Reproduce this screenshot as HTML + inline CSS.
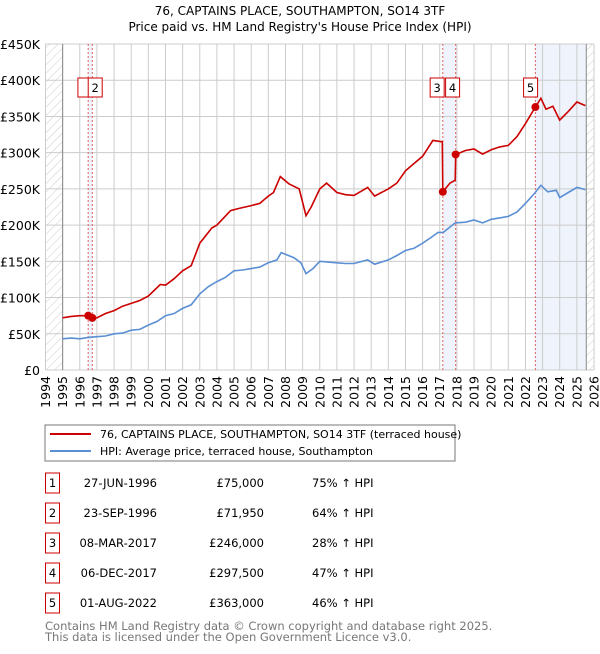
<!DOCTYPE html>
<html><head><meta charset="utf-8"><style>
body{margin:0;background:#fff;font-family:"DejaVu Sans","Liberation Sans",sans-serif;}
svg text{font-family:"DejaVu Sans","Liberation Sans",sans-serif;}
</style></head><body>
<svg id="c" width="600" height="650" xmlns="http://www.w3.org/2000/svg">
<defs><pattern id="hatch" width="6" height="6" patternUnits="userSpaceOnUse" patternTransform="rotate(45)"><line x1="0" y1="0" x2="0" y2="6" stroke="#ccc" stroke-width="1"/></pattern></defs>
<text x="300" y="15" text-anchor="middle" font-size="12">76, CAPTAINS PLACE, SOUTHAMPTON, SO14 3TF</text>
<text x="300" y="31" text-anchor="middle" font-size="12">Price paid vs. HM Land Registry's House Price Index (HPI)</text>
<g id="plot"></g>
<rect x="45" y="425" width="410" height="36" fill="#fff" stroke="#777"/>
<line x1="50" y1="434" x2="91" y2="434" stroke="#cc0000" stroke-width="2"/>
<text x="100" y="438" font-size="11">76, CAPTAINS PLACE, SOUTHAMPTON, SO14 3TF (terraced house)</text>
<line x1="50" y1="451" x2="91" y2="451" stroke="#5b8fd4" stroke-width="2"/>
<text x="100" y="455" font-size="11">HPI: Average price, terraced house, Southampton</text>
<g id="table"></g>
<text x="45" y="630" font-size="11.5" fill="#777">Contains HM Land Registry data © Crown copyright and database right 2025.</text>
<text x="45" y="641" font-size="11.5" fill="#777">This data is licensed under the Open Government Licence v3.0.</text>
</svg>
<script>
const hpiYears=[1995,1995.5,1996,1996.5,1997,1997.5,1998,1998.5,1999,1999.5,2000,2000.5,2001,2001.5,2002,2002.5,2003,2003.5,2004,2004.5,2005,2005.5,2006,2006.5,2007,2007.5,2007.75,2008.5,2008.9,2009.2,2009.6,2010,2010.5,2011,2011.5,2012,2012.8,2013.2,2014,2014.5,2015,2015.5,2016,2016.5,2016.9,2017.2,2017.9,2018.5,2019,2019.5,2020,2020.5,2021,2021.5,2022,2022.5,2022.9,2023.3,2023.8,2024.0,2024.5,2025.0,2025.5];
const hpiValues=[43,44,43,45,46,47,50,51,55,56,62,67,75,78,85,90,105,115,122,128,137,138,140,142,148,152,162,155,148,133,140,150,149,148,147,147,152,146,152,158,165,168,175,183,190,190,203,204,207,203,208,210,212,218,230,243,255,246,248,238,245,252,249];
const propYears=[1995,1995.5,1996,1996.49,1996.73,1997,1997.5,1998,1998.5,1999,1999.5,2000,2000.7,2001,2001.5,2002,2002.5,2003,2003.7,2004,2004.8,2005.3,2006,2006.5,2007,2007.3,2007.7,2008.2,2008.8,2009.2,2009.5,2010,2010.4,2011,2011.5,2012,2012.8,2013.2,2014,2014.5,2015,2015.5,2016,2016.6,2017.15,2017.18,2017.6,2017.9,2017.93,2018.5,2019,2019.5,2020,2020.5,2021,2021.5,2022,2022.58,2022.9,2023.2,2023.6,2024,2024.5,2025,2025.5];
const propValues=[72,74,75,75,71.95,72,78,82,88,92,96,102,118,117,126,137,144,175,196,200,220,223,227,230,240,245,267,257,250,213,225,250,258,245,242,241,252,240,250,258,275,285,295,317,315,246,258,262,297.5,303,305,298,304,308,310,322,340,363,375,360,364,345,357,370,365];
const saleYears=[1996.49,1996.73,2017.18,2017.93,2022.58];
const saleValues=[75,71.95,246,297.5,363];
const saleLabels=["1","2","3","4","5"];
const saleDates=["27-JUN-1996","23-SEP-1996","08-MAR-2017","06-DEC-2017","01-AUG-2022"];
const salePrices=["£75,000","£71,950","£246,000","£297,500","£363,000"];
const saleHpi=["75% ↑ HPI","64% ↑ HPI","28% ↑ HPI","47% ↑ HPI","46% ↑ HPI"];
const yTicks=[0,50,100,150,200,250,300,350,400,450];
const yTickLabels=["£0","£50K","£100K","£150K","£200K","£250K","£300K","£350K","£400K","£450K"];
const xTicks=[1994,1995,1996,1997,1998,1999,2000,2001,2002,2003,2004,2005,2006,2007,2008,2009,2010,2011,2012,2013,2014,2015,2016,2017,2018,2019,2020,2021,2022,2023,2024,2025,2026];

const NS="http://www.w3.org/2000/svg";
const X0=45.5,X1=594,Y0=370,Y1=44;
const xs=y=>X0+(y-1994)/32*(X1-X0);
const ys=v=>Y0-v/450*(Y0-Y1);
const plot=document.getElementById('plot');
function mk(tag,attrs,parent){const e=document.createElementNS(NS,tag);for(const k in attrs)e.setAttribute(k,attrs[k]);(parent||plot).appendChild(e);return e;}
let e;
// shaded ranges
e=mk('rect',{x:xs(saleYears[0]),y:Y1,width:xs(saleYears[1])-xs(saleYears[0]),height:Y0-Y1,fill:'#eef3fc'});


e=mk('rect',{x:xs(saleYears[2]),y:Y1,width:xs(saleYears[3])-xs(saleYears[2]),height:Y0-Y1,fill:'#eef3fc'});


e=mk('rect',{x:xs(saleYears[4]),y:Y1,width:xs(2025.55)-xs(saleYears[4]),height:Y0-Y1,fill:'#eef3fc'});


// hatch
e=mk('rect',{x:X0,y:Y1,width:xs(1995)-X0,height:Y0-Y1,fill:'url(#hatch)'});


e=mk('rect',{x:xs(2025.55),y:Y1,width:X1-xs(2025.55),height:Y0-Y1,fill:'url(#hatch)'});


// grid
yTicks.forEach((t,i)=>{
 e=mk('line',{x1:X0,x2:X1,y1:ys(t),y2:ys(t),stroke:'#ccc'});
 
 
 e=mk('text',{x:40,y:ys(t)+5,'text-anchor':'end','font-size':12.5});
 e.textContent=yTickLabels[i];
 
 
});
xTicks.forEach(t=>{
 e=mk('line',{x1:xs(t),x2:xs(t),y1:Y1,y2:Y0,stroke:'#ccc'});
 
 
 e=mk('text',{x:0,y:0,'font-size':12.5,'text-anchor':'end',transform:`translate(${xs(t)+4.5},${Y0+6}) rotate(-90)`});
 e.textContent=t;
 
 
});
e=mk('line',{x1:xs(1995),x2:xs(1995),y1:Y1,y2:Y0,stroke:'#888'});


e=mk('line',{x1:xs(2025.55),x2:xs(2025.55),y1:Y1,y2:Y0,stroke:'#888'});


// sale dashed lines
saleYears.forEach(s=>{
 e=mk('line',{x1:xs(s),x2:xs(s),y1:Y1,y2:Y0,stroke:'#e06060','stroke-dasharray':'2,2'});
 
 
});
// lines
const pts=(xa,va)=>xa.map((x,i)=>xs(x).toFixed(1)+','+ys(va[i]).toFixed(1)).join(' ');
e=mk('polyline',{points:pts(hpiYears,hpiValues),fill:'none',stroke:'#5b8fd4','stroke-width':1.6});


e=mk('polyline',{points:pts(propYears,propValues),fill:'none',stroke:'#cc0000','stroke-width':1.6});


saleYears.forEach((s,i)=>{
 e=mk('circle',{cx:xs(s),cy:ys(saleValues[i]),r:4,fill:'#cc0000'});
 
 
});
// labels boxes
const lblX=[xs(saleYears[0])-6,xs(saleYears[1])+2,xs(saleYears[2])-6,xs(saleYears[3])+2,xs(saleYears[4])-6];
saleLabels.forEach((l,i)=>{
 const cx=[xs(1996.3),xs(1996.9),xs(2016.85),xs(2017.75),xs(2022.3)][i];
 e=mk('rect',{x:cx-7,y:78,width:14,height:19,fill:'#fff',stroke:'#cc0000'});
 
 
 e=mk('text',{x:cx,y:92,'text-anchor':'middle','font-size':11.5});
 e.textContent=(i==0?'':l);
 
 
});
// table
const tb=document.getElementById('table');
saleLabels.forEach((l,i)=>{
 const cy=483+i*30;
 e=mk('rect',{x:45.5,y:cy-10,width:14,height:20,fill:'#fff',stroke:'#cc0000'},tb);
 
 
 e=mk('text',{x:52.5,y:cy+4,'text-anchor':'middle','font-size':11.5},tb);e.textContent=l;
 
 
 e=mk('text',{x:157,y:cy+4,'text-anchor':'end','font-size':11.5},tb);e.textContent=saleDates[i];
 
 
 e=mk('text',{x:264,y:cy+4,'text-anchor':'end','font-size':11.5},tb);e.textContent=salePrices[i];
 
 
 e=mk('text',{x:312,y:cy+4,'font-size':11.5},tb);e.textContent=saleHpi[i];
 
 
});
</script>
</body></html>
